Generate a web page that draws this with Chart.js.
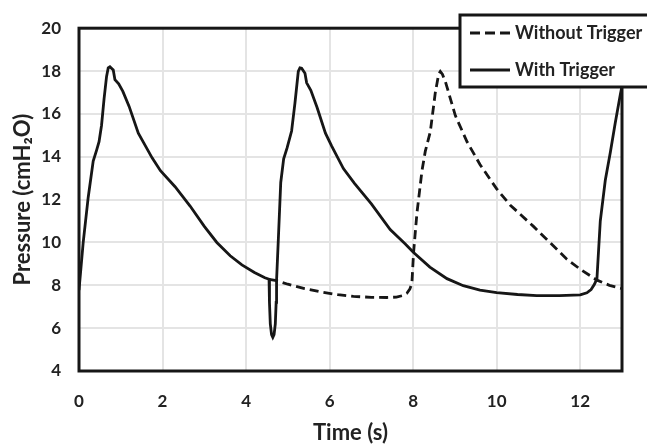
<!DOCTYPE html>
<html>
<head>
<meta charset="utf-8">
<script src="https://cdn.jsdelivr.net/npm/chart.js@4.4.1/dist/chart.umd.min.js"></script>
<style>
    body { margin: 0; background: #fff; }
    canvas { display: block; }
</style>
</head>
<body>
<canvas id="pressureChart" width="647" height="444"></canvas>
<script>
// Datos
const timeWith = [0, 0.10, 0.22, 0.34, 0.42, 0.48, 0.54, 0.60, 0.66, 0.70, 0.74, 0.82, 0.86, 0.95, 1.05, 1.20, 1.42, 1.55, 1.75, 1.95,
    2.30, 2.66, 3.00, 3.30, 3.62, 3.90, 4.20, 4.45,
    4.55, 4.56, 4.58, 4.61, 4.64, 4.67, 4.70, 4.72, 4.73,
    4.78, 4.83, 4.90, 4.98, 5.09, 5.17, 5.25, 5.29, 5.33, 5.41, 5.45, 5.55, 5.70, 5.90, 6.05, 6.33, 6.60,
    7.00, 7.45, 7.80, 8.01, 8.40, 8.81, 9.20, 9.60, 10.0, 10.5, 10.96, 11.5, 12.0, 12.16, 12.26, 12.34,
    12.40, 12.48, 12.60, 12.72, 12.84, 12.96, 13.0];
const pressureWith = [7.78, 9.99, 12.1, 13.8, 14.3, 14.7, 15.47, 16.7, 17.75, 18.15, 18.2, 18.05, 17.6, 17.4, 17.05, 16.35, 15.1, 14.65, 13.95, 13.35,
    12.6, 11.7, 10.75, 10.0, 9.38, 8.95, 8.6, 8.35,
    8.28, 7.2, 6.2, 5.7, 5.57, 5.7, 6.2, 7.2, 8.24,
    10.5, 12.8, 13.9, 14.4, 15.2, 16.5, 17.98, 18.15, 18.13, 17.9, 17.45, 17.1, 16.3, 15.1, 14.5, 13.45, 12.75,
    11.8, 10.6, 9.95, 9.53, 8.85, 8.31, 7.98, 7.78, 7.66, 7.57, 7.52, 7.52, 7.55, 7.65, 7.8, 8.05,
    8.31, 11.0, 12.9, 14.2, 15.6, 16.9, 17.3];

const timeWithout = [4.55, 4.73, 5.0, 5.4, 5.77, 6.2, 6.57, 7.0, 7.37, 7.6, 7.75, 7.85, 7.92, 7.97, 8.01, 8.09, 8.21, 8.29, 8.41, 8.53, 8.61, 8.65,
    8.70, 8.77, 9.01, 9.29, 9.60, 10.0, 10.32, 10.88, 11.3, 11.68, 12.0, 12.40, 12.7, 13.0];
const pressureWithout = [8.28, 8.22, 8.05, 7.85, 7.7, 7.56, 7.48, 7.44, 7.43, 7.45, 7.52, 7.63, 7.82, 8.1, 9.53, 11.36, 13.33, 14.25, 15.16, 16.99, 17.85, 17.98,
    17.85, 17.52, 15.92, 14.7, 13.64, 12.5, 11.75, 10.75, 9.95, 9.22, 8.75, 8.24, 8.0, 7.85];

const seriesLabels = ['Without Trigger', 'With Trigger'];
const xTicks = [0, 2, 4, 6, 8, 10, 12];
const yTicks = [4, 6, 8, 10, 12, 14, 16, 18, 20];

const ink = '#161616';
const fontName = 'Lato, "Open Sans", sans-serif';

function toPoints(xs, ys) {
    return xs.map((x, i) => ({ x: x, y: ys[i] }));
}

// Marco del área del gráfico y leyenda con recuadro
const framePlugin = {
    id: 'frameAndLegend',
    afterDatasetsDraw(chart) {
        const ctx = chart.ctx;
        const a = chart.chartArea;
        ctx.save();
        ctx.strokeStyle = ink;
        ctx.lineWidth = 3;
        ctx.strokeRect(a.left, a.top, a.right - a.left, a.bottom - a.top);

        // leyenda
        const bx = a.right - 162, by = 15, bw = 200, bh = 72;
        ctx.fillStyle = '#fff';
        ctx.fillRect(bx, by, bw, bh);
        ctx.strokeRect(bx, by, bw, bh);

        const rows = [
            { label: seriesLabels[0], dash: [10, 5], y: by + 18 },
            { label: seriesLabels[1], dash: [], y: by + 55 }
        ];
        rows.forEach(r => {
            ctx.beginPath();
            ctx.setLineDash(r.dash);
            ctx.lineWidth = 3;
            ctx.moveTo(bx + 10, r.y);
            ctx.lineTo(bx + 50, r.y);
            ctx.stroke();
            ctx.setLineDash([]);
            ctx.fillStyle = '#222';
            ctx.font = 'bold 18px ' + fontName;
            ctx.textBaseline = 'middle';
            ctx.textAlign = 'left';
            ctx.fillText(r.label, bx + 55, r.y);
        });
        ctx.restore();
    }
};

const ctx = document.getElementById('pressureChart').getContext('2d');
const pressureChart = new Chart(ctx, {
    type: 'line',
    data: {
        datasets: [
            {
                label: seriesLabels[1],
                data: toPoints(timeWith, pressureWith),
                borderColor: ink,
                borderWidth: 2.8,
                pointRadius: 0,
                tension: 0
            },
            {
                label: seriesLabels[0],
                data: toPoints(timeWithout, pressureWithout),
                borderColor: ink,
                borderWidth: 2.8,
                borderDash: [9, 5],
                pointRadius: 0,
                tension: 0
            }
        ]
    },
    options: {
        responsive: false,
        animation: false,
        devicePixelRatio: 1,
        layout: { padding: { top: 21, right: 25, left: 0, bottom: 0 } },
        plugins: {
            legend: { display: false },
            tooltip: { enabled: false }
        },
        scales: {
            x: {
                type: 'linear',
                min: 0,
                max: 13,
                afterFit: (scale) => { scale.height = 73; },
                afterBuildTicks: (scale) => { scale.ticks = xTicks.map(v => ({ value: v })); },
                grid: { color: '#e4e4e4', lineWidth: 2, drawTicks: false },
                border: { display: false },
                ticks: {
                    padding: 20,
                    color: '#222',
                    font: { family: fontName, size: 17, weight: 'bold' }
                },
                title: {
                    display: true,
                    text: 'Time (s)',
                    color: '#222',
                    padding: { top: 0, bottom: 0 },
                    font: { family: fontName, size: 22, weight: 'bold', lineHeight: 1 }
                }
            },
            y: {
                min: 4,
                max: 20,
                afterFit: (scale) => { scale.width = 79; },
                afterBuildTicks: (scale) => { scale.ticks = yTicks.map(v => ({ value: v })); },
                grid: { color: '#e4e4e4', lineWidth: 2, drawTicks: false },
                border: { display: false },
                ticks: {
                    padding: 18,
                    color: '#222',
                    font: { family: fontName, size: 17, weight: 'bold' }
                },
                title: {
                    display: true,
                    text: 'Pressure (cmH₂O)',
                    color: '#222',
                    padding: { top: 12, bottom: 0 },
                    font: { family: fontName, size: 22, weight: 'bold', lineHeight: 1 }
                }
            }
        }
    },
    plugins: [framePlugin]
});
</script>
</body>
</html>
